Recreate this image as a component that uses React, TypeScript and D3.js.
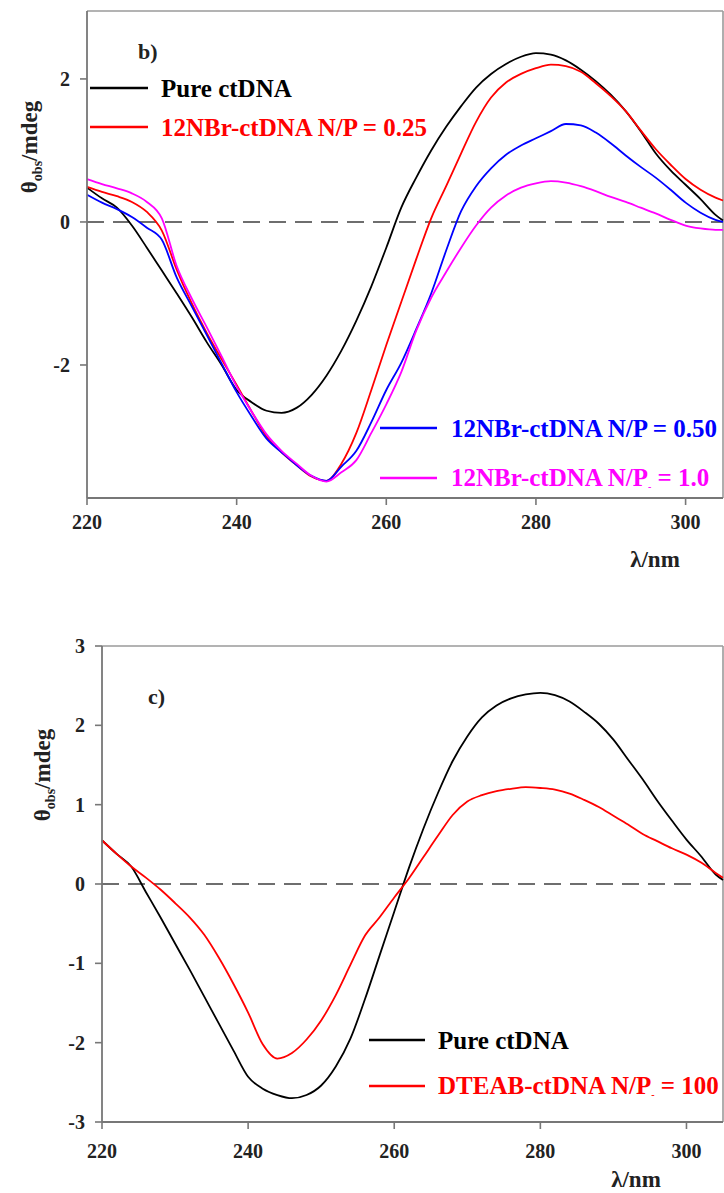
import React from 'react';
import * as d3 from 'd3';

// ---------- data ----------
const wavelengths = [220,222,224,226,228,230,232,234,236,238,240,242,244,246,248,250,252,254,256,258,260,262,264,266,268,270,272,274,276,278,280,282,284,286,288,290,292,294,296,298,300,302,304,305];

// panel b
const pureB = [0.48,0.33,0.2,-0.05,-0.36,-0.68,-1.0,-1.33,-1.68,-2.0,-2.35,-2.52,-2.64,-2.67,-2.6,-2.42,-2.15,-1.8,-1.38,-0.9,-0.36,0.2,0.62,1.0,1.33,1.62,1.88,2.07,2.21,2.31,2.36,2.34,2.26,2.13,1.97,1.78,1.55,1.27,0.96,0.72,0.52,0.32,0.1,0.02];
const np025 = [0.49,0.42,0.36,0.28,0.14,-0.12,-0.67,-1.14,-1.55,-1.92,-2.28,-2.65,-3.0,-3.22,-3.4,-3.56,-3.62,-3.38,-2.95,-2.35,-1.72,-1.12,-0.52,0.05,0.5,0.96,1.4,1.74,1.95,2.07,2.15,2.2,2.18,2.1,1.94,1.76,1.55,1.28,1.02,0.8,0.6,0.45,0.34,0.3];
const np050 = [0.38,0.27,0.18,0.07,-0.08,-0.25,-0.78,-1.18,-1.58,-1.98,-2.38,-2.72,-3.03,-3.22,-3.4,-3.55,-3.62,-3.42,-3.2,-2.8,-2.35,-1.97,-1.5,-1.0,-0.4,0.15,0.5,0.75,0.94,1.07,1.17,1.27,1.37,1.35,1.25,1.1,0.93,0.77,0.62,0.45,0.27,0.13,0.03,0.0];
const np10 = [0.6,0.53,0.47,0.4,0.28,0.05,-0.62,-1.07,-1.47,-1.88,-2.3,-2.65,-2.97,-3.2,-3.38,-3.55,-3.63,-3.5,-3.33,-2.95,-2.55,-2.1,-1.52,-1.06,-0.7,-0.36,-0.05,0.2,0.37,0.48,0.54,0.57,0.55,0.5,0.43,0.35,0.28,0.2,0.12,0.03,-0.05,-0.09,-0.11,-0.11];

// panel c
const pureC = [0.55,0.38,0.22,-0.1,-0.42,-0.75,-1.08,-1.42,-1.76,-2.1,-2.43,-2.58,-2.66,-2.7,-2.66,-2.54,-2.3,-1.95,-1.45,-0.9,-0.35,0.2,0.7,1.15,1.55,1.86,2.1,2.25,2.34,2.39,2.41,2.38,2.3,2.17,2.02,1.82,1.57,1.32,1.05,0.8,0.56,0.35,0.12,0.05];
const dteab = [0.55,0.38,0.22,0.08,-0.07,-0.24,-0.42,-0.64,-0.93,-1.26,-1.62,-2.02,-2.2,-2.13,-1.96,-1.72,-1.4,-1.02,-0.65,-0.42,-0.17,0.07,0.34,0.61,0.87,1.04,1.12,1.17,1.2,1.22,1.21,1.19,1.14,1.06,0.97,0.86,0.75,0.63,0.54,0.45,0.37,0.27,0.14,0.08];

const xTicks = [220, 240, 260, 280, 300];
const yTicksB = [-2, 0, 2];
const yTicksC = [-3, -2, -1, 0, 1, 2, 3];

const FONT = "'Liberation Serif', 'Times New Roman', serif";
const AXIS = '#777';
const FRAME = '#9a9a9a';

type Series = { values: number[]; color: string };
type Legend = { color: string; x1: number; x2: number; y: number; tx: number; ty: number; main: string; sub?: string; tail?: string };

function Panel(props: {
  left: number; right: number; top: number; bottom: number;
  yDomain: [number, number]; yTicks: number[];
  series: Series[]; legends: Legend[];
  label: string; labelX: number; labelY: number;
  titleX: number; titleY: number;
  xLabelY: number; lambdaX: number; lambdaY: number;
}) {
  const { left, right, top, bottom, yDomain, yTicks, series, legends } = props;
  const x = d3.scaleLinear().domain([220, 305]).range([left, right]);
  const y = d3.scaleLinear().domain(yDomain).range([bottom, top]);
  const line = d3.line<number>()
    .x((_, i) => x(wavelengths[i]))
    .y((d) => y(d))
    .curve(d3.curveMonotoneX);
  return (
    <g>
      <line x1={left} x2={right} y1={top} y2={top} stroke={FRAME} strokeWidth={1.6} />
      <line x1={right} x2={right} y1={top} y2={bottom} stroke={FRAME} strokeWidth={1.6} />
      <line x1={left} x2={right} y1={y(0)} y2={y(0)} stroke="#6e6e6e" strokeWidth={2} strokeDasharray="17,9" />
      {series.map((s, i) => (
        <path key={i} d={line(s.values) || ''} fill="none" stroke={s.color} strokeWidth={1.8} />
      ))}
      <line x1={left} x2={left} y1={top} y2={bottom} stroke={AXIS} strokeWidth={1.8} />
      <line x1={left} x2={right} y1={bottom} y2={bottom} stroke={AXIS} strokeWidth={1.8} />
      {yTicks.map((t) => (
        <g key={'y' + t}>
          <line x1={left - 7} x2={left} y1={y(t)} y2={y(t)} stroke={AXIS} strokeWidth={1.6} />
          <text x={left - 17} y={y(t)} dy="0.35em" textAnchor="end" fontFamily={FONT} fontWeight="bold" fontSize={20} fill="#222">{t}</text>
        </g>
      ))}
      {xTicks.map((t) => (
        <g key={'x' + t}>
          <line x1={x(t)} x2={x(t)} y1={bottom} y2={bottom + 7} stroke={AXIS} strokeWidth={1.6} />
          <text x={x(t)} y={props.xLabelY} textAnchor="middle" fontFamily={FONT} fontWeight="bold" fontSize={20} fill="#222">{t}</text>
        </g>
      ))}
      <text x={props.lambdaX} y={props.lambdaY} textAnchor="middle" fontFamily={FONT} fontWeight="bold" fontSize={23} fill="#222">λ/nm</text>
      <text transform={`translate(${props.titleX},${props.titleY}) rotate(-90)`} textAnchor="middle" dy="0.35em" fontFamily={FONT} fontWeight="bold" fontSize={23} fill="#222">
        θ<tspan fontSize={14} dy={5}>obs</tspan><tspan dy={-5}>/mdeg</tspan>
      </text>
      <text x={props.labelX} y={props.labelY} fontFamily={FONT} fontWeight="bold" fontSize={22} fill="#222">{props.label}</text>
      {legends.map((l, i) => (
        <g key={'l' + i}>
          <line x1={l.x1} x2={l.x2} y1={l.y} y2={l.y} stroke={l.color} strokeWidth={2.4} />
          <text x={l.tx} y={l.ty} fontFamily={FONT} fontWeight="bold" fontSize={25} fill={l.color}>
            {l.main}
            {l.sub !== undefined && <tspan fontSize={10} dy={4}>{l.sub}</tspan>}
            {l.tail !== undefined && <tspan dy={l.sub !== undefined ? -4 : 0}>{l.tail}</tspan>}
          </text>
        </g>
      ))}
    </g>
  );
}

export default function App() {
  return (
    <svg width={724} height={1193} style={{ position: 'absolute', left: 0, top: 0, background: '#fff' }}>
      <Panel
        left={87} right={723} top={11} bottom={498}
        yDomain={[-3.86, 2.95]} yTicks={yTicksB}
        series={[
          { values: pureB, color: '#000000' },
          { values: np025, color: '#ff0000' },
          { values: np050, color: '#0000ff' },
          { values: np10, color: '#ff00ff' },
        ]}
        legends={[
          { color: '#000000', x1: 90, x2: 148, y: 88, tx: 161, ty: 97, main: 'Pure ctDNA' },
          { color: '#ff0000', x1: 90, x2: 148, y: 127, tx: 161, ty: 136, main: '12NBr-ctDNA N/P = 0.25' },
          { color: '#0000ff', x1: 380, x2: 437, y: 428, tx: 451, ty: 437, main: '12NBr-ctDNA N/P = 0.50' },
          { color: '#ff00ff', x1: 380, x2: 437, y: 478, tx: 451, ty: 486, main: '12NBr-ctDNA N/P', sub: '-', tail: ' = 1.0' },
        ]}
        label="b)" labelX={138} labelY={59}
        titleX={29} titleY={147}
        xLabelY={529} lambdaX={655} lambdaY={567}
      />
      <Panel
        left={102} right={723} top={646} bottom={1122}
        yDomain={[-3, 3]} yTicks={yTicksC}
        series={[
          { values: pureC, color: '#000000' },
          { values: dteab, color: '#ff0000' },
        ]}
        legends={[
          { color: '#000000', x1: 369, x2: 425, y: 1040, tx: 438, ty: 1049, main: 'Pure ctDNA' },
          { color: '#ff0000', x1: 369, x2: 425, y: 1086, tx: 438, ty: 1094, main: 'DTEAB-ctDNA N/P', sub: '-', tail: ' = 100' },
        ]}
        label="c)" labelX={148} labelY={704}
        titleX={42} titleY={775}
        xLabelY={1158} lambdaX={636} lambdaY={1187}
      />
    </svg>
  );
}
